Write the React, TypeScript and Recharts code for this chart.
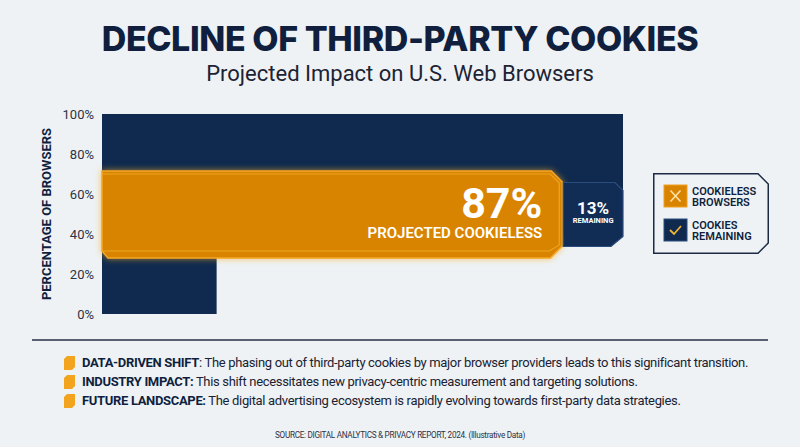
import { Area, Bar, BarChart, ComposedChart, XAxis, YAxis } from "recharts";

const categories = ["U.S. Web Browsers"];
const cookielessShare = [87];
const remainingShare = [13];
const yTicks = [0, 20, 40, 60, 80, 100];

// navy backdrop outline (x in % of width, low/high in % of browsers)
const backdropX = [0, 22, 22, 100];
const backdropLow = [0, 0, 40, 40];
const backdropHigh = [100, 100, 100, 100];

const legendLabels = [
    ["COOKIELESS", "BROWSERS"],
    ["COOKIES", "REMAINING"],
];

const bulletHeads = ["DATA-DRIVEN SHIFT", "INDUSTRY IMPACT:", "FUTURE LANDSCAPE:"];
const bulletTexts = [
    ": The phasing out of third-party cookies by major browser providers leads to this significant transition.",
    " This shift necessitates new privacy-centric measurement and targeting solutions.",
    " The digital advertising ecosystem is rapidly evolving towards first-party data strategies.",
];

const NAVY = "#0f2a4e";
const ORANGE = "#d98400";
const INK = "#0f1f3d";
const FONT = "Roboto, 'Noto Sans', sans-serif";

const CHART_W = 640;
const CHART_H = 330;
const PLOT = { top: 114, right: 17, bottom: 16, left: 102 };

function OrangeShape(props: any) {
    const { x, y, width, height, payload } = props;
    const right = x + width + 7;
    const bottom = y + height;
    const outer = [
        [x, y],
        [right - 11, y],
        [right, y + 11],
        [right, bottom - 12],
        [right - 12, bottom],
        [x + 6, bottom],
        [x, bottom - 7],
    ]
        .map((p) => p.join(","))
        .join(" ");
    const inner = [
        [x, y + 3],
        [right - 12, y + 3],
        [right - 3, y + 12],
        [right - 3, bottom - 13],
        [right - 13, bottom - 7],
        [x, bottom - 7],
    ]
        .map((p) => p.join(","))
        .join(" ");
    const cy = y + height / 2;
    return (
        <g>
            <polygon points={outer} fill={ORANGE} stroke="#f5a623" strokeWidth={1.5} filter="url(#glow)" />
            <polyline points={inner} fill="none" stroke="#f3ab2c" strokeWidth={1.2} opacity={0.8} />
            <text
                x={x + width - 13}
                y={cy + 3}
                textAnchor="end"
                fill="#ffffff"
                fontSize={43}
                fontWeight={700}
                fontFamily={FONT}
            >
                {payload.cookieless}%
            </text>
            <text
                x={x + width - 13}
                y={cy + 23}
                textAnchor="end"
                fill="#ffffff"
                fontSize={15}
                fontWeight={600}
                fontFamily={FONT}
            >
                PROJECTED COOKIELESS
            </text>
        </g>
    );
}

function TagShape(props: any) {
    const { x, y, width, height, payload } = props;
    const cy = y + height / 2;
    const top = cy - 32;
    const bottom = cy + 32;
    const left = x + 8;
    const right = x + width;
    const pts = [
        [left, top],
        [right - 8, top],
        [right, top + 8],
        [right, bottom - 10],
        [right - 12, bottom],
        [left, bottom],
    ]
        .map((p) => p.join(","))
        .join(" ");
    const mid = (left + right) / 2;
    return (
        <g>
            <polygon points={pts} fill="#112d55" stroke="#2b4d7e" strokeWidth={1.2} />
            <text x={mid} y={cy - 1} textAnchor="middle" fill="#ffffff" fontSize={17} fontWeight={700} fontFamily={FONT}>
                {payload.remaining}%
            </text>
            <text x={mid} y={cy + 8.5} textAnchor="middle" fill="#ffffff" fontSize={7.5} fontWeight={700} fontFamily={FONT}>
                REMAINING
            </text>
        </g>
    );
}

function Legend() {
    return (
        <div style={{ position: "absolute", left: 653, top: 173, width: 116, height: 81 }}>
            <svg width={116} height={81} style={{ position: "absolute", left: 0, top: 0 }}>
                <polygon
                    points="0.75,0.75 105,0.75 115.25,11 115.25,70 105,80.25 0.75,80.25"
                    fill="none"
                    stroke="#1c2a44"
                    strokeWidth={1.5}
                />
                <rect x={11} y={12} width={23} height={22} fill={ORANGE} stroke="#f0a020" strokeWidth={1} />
                <path d="M17.5,17.5 L27.5,28.5 M27.5,17.5 L17.5,28.5" stroke="#ffe2a8" strokeWidth={1.6} />
                <rect x={11} y={46} width={23} height={22} fill={NAVY} stroke="#2b4d7e" strokeWidth={1} />
                <path d="M17,57 L21,61 L28,53" stroke="#f2b233" strokeWidth={1.8} fill="none" />
            </svg>
            {legendLabels.map((lines, i) => (
                <div
                    key={i}
                    style={{
                        position: "absolute",
                        left: 39,
                        top: 13 + i * 34,
                        fontSize: 11,
                        lineHeight: "11px",
                        fontWeight: 600,
                        color: INK,
                        fontFamily: FONT,
                    }}
                >
                    {lines[0]}
                    <br />
                    {lines[1]}
                </div>
            ))}
        </div>
    );
}

function BulletIcon() {
    return (
        <svg width={11} height={14} style={{ position: "absolute", left: -18, top: 3 }}>
            <polygon points="3,0 11,0 11,11 8,14 0,14 0,3" fill="#f2a41f" />
        </svg>
    );
}

export default function App() {
    const data = categories.map((name, i) => ({
        name,
        cookieless: cookielessShare[i],
        remaining: remainingShare[i],
    }));
    const backdrop = backdropX.map((x, i) => ({
        x,
        band: [backdropLow[i], backdropHigh[i]],
    }));

    return (
        <div
            style={{
                position: "relative",
                width: 800,
                height: 447,
                background: "#eef2f5",
                overflow: "hidden",
                fontFamily: FONT,
            }}
        >
            <style>{`body { margin: 0; }`}</style>
            <div
                style={{
                    position: "absolute",
                    top: 22,
                    width: 800,
                    textAlign: "center",
                    fontSize: 34,
                    lineHeight: "34px",
                    fontWeight: 800,
                    fontFamily: "Inter, Roboto, sans-serif",
                    color: INK,
                    letterSpacing: -0.4,
                }}
            >
                DECLINE OF THIRD-PARTY COOKIES
            </div>
            <div
                style={{
                    position: "absolute",
                    top: 63,
                    width: 800,
                    textAlign: "center",
                    fontSize: 22,
                    lineHeight: "22px",
                    color: "#1c2333",
                }}
            >
                Projected Impact on U.S. Web Browsers
            </div>

            {/* axis + navy backdrop */}
            <div style={{ position: "absolute", left: 0, top: 0 }}>
                <ComposedChart
                    width={CHART_W}
                    height={CHART_H}
                    data={backdrop}
                    margin={{ top: PLOT.top, right: PLOT.right, bottom: PLOT.bottom, left: 42 }}
                >
                    <XAxis type="number" dataKey="x" domain={[0, 100]} hide />
                    <YAxis
                        type="number"
                        domain={[0, 100]}
                        ticks={yTicks}
                        tickFormatter={(v) => `${v}%`}
                        width={60}
                        tickLine={false}
                        axisLine={false}
                        tickSize={0}
                        tickMargin={8}
                        tick={{ fontSize: 13, fill: "#2b3245", fontFamily: FONT }}
                        label={{
                            value: "PERCENTAGE OF BROWSERS",
                            angle: -90,
                            position: "insideLeft",
                            dx: -1,
                            style: {
                                textAnchor: "middle",
                                fill: INK,
                                fontSize: 13,
                                fontWeight: 700,
                                fontFamily: FONT,
                            },
                        }}
                    />
                    <Area
                        type="linear"
                        dataKey="band"
                        fill={NAVY}
                        fillOpacity={1}
                        stroke="none"
                        isAnimationActive={false}
                    />
                </ComposedChart>
            </div>

            {/* stacked share bar */}
            <div style={{ position: "absolute", left: 0, top: 0 }}>
                <BarChart width={CHART_W} height={CHART_H} data={data} layout="vertical" margin={PLOT}>
                    <defs>
                        <filter id="glow" x="-10%" y="-30%" width="120%" height="160%">
                            <feDropShadow dx={0} dy={0} stdDeviation={3} floodColor="#f7a81b" floodOpacity={0.7} />
                        </filter>
                    </defs>
                    <XAxis type="number" domain={[0, 100]} hide />
                    <YAxis type="category" dataKey="name" hide />
                    <Bar dataKey="cookieless" stackId="share" barSize={87} shape={OrangeShape} isAnimationActive={false} />
                    <Bar dataKey="remaining" stackId="share" barSize={87} shape={TagShape} isAnimationActive={false} />
                </BarChart>
            </div>

            <Legend />

            <div
                style={{
                    position: "absolute",
                    left: 32,
                    top: 339,
                    width: 736,
                    height: 2,
                    background: "#5b6070",
                }}
            />

            {bulletHeads.map((head, i) => (
                <div
                    key={i}
                    style={{
                        position: "absolute",
                        left: 82,
                        top: 353 + i * 19,
                        fontSize: 13,
                        lineHeight: "19px",
                        color: "#1a2233",
                        letterSpacing: -0.33,
                        whiteSpace: "nowrap",
                    }}
                >
                    <BulletIcon />
                    <span style={{ fontWeight: 700, color: INK }}>{head}</span>
                    {bulletTexts[i]}
                </div>
            ))}

            <div
                style={{
                    position: "absolute",
                    top: 430,
                    width: 800,
                    textAlign: "center",
                    fontSize: 8.2,
                    lineHeight: "10px",
                    color: "#2b3245",
                    letterSpacing: -0.3,
                }}
            >
                SOURCE: DIGITAL ANALYTICS &amp; PRIVACY REPORT, 2024. (Illustrative Data)
            </div>
        </div>
    );
}
